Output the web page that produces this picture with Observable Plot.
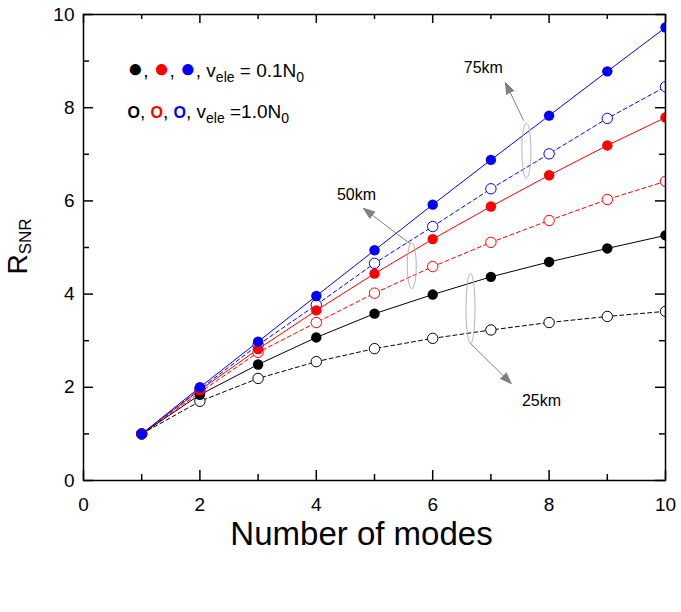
<!DOCTYPE html>
<html><head><meta charset="utf-8">
<script src="https://cdn.jsdelivr.net/npm/d3@7"></script>
<script src="https://cdn.jsdelivr.net/npm/@observablehq/plot@0.6"></script>
<style>body{margin:0;background:#fff;} #chart{width:681px;height:612px;}</style>
</head><body><div id="chart"></div>
<script>
// ---- data ----
const modes = [1, 2, 3, 4, 5, 6, 7, 8, 9, 10];
const filled25 = [1, 1.84, 2.49, 3.07, 3.58, 3.99, 4.37, 4.69, 4.98, 5.26];
const open25   = [1, 1.70, 2.19, 2.55, 2.83, 3.05, 3.23, 3.39, 3.52, 3.63];
const filled50 = [1, 1.94, 2.82, 3.65, 4.44, 5.18, 5.88, 6.55, 7.19, 7.79];
const open50   = [1, 1.89, 2.75, 3.39, 4.02, 4.59, 5.11, 5.58, 6.03, 6.42];
const filled75 = [1, 2.00, 2.98, 3.96, 4.94, 5.92, 6.88, 7.83, 8.78, 9.72];
const open75   = [1, 1.96, 2.91, 3.77, 4.66, 5.45, 6.26, 7.01, 7.77, 8.45];
const xTicks = [0, 2, 4, 6, 8, 10];
const xMinor = [1, 3, 5, 7, 9];
const yTicks = [0, 2, 4, 6, 8, 10];
const yMinor = [1, 3, 5, 7, 9];
const xLabel = "Number of modes";
const yLabel = "RSNR";
const annNames = ["75km", "50km", "25km"];
const legendFilled = "v_ele = 0.1N_0";
const legendOpen = "v_ele =1.0N_0";

// ---- annotation placement (data units) ----
const annLabelX = [6.87, 4.69, 7.87], annLabelY = [8.86, 6.12, 1.70];
const annFromX = [7.56, 5.60, 6.65], annFromY = [7.73, 5.09, 2.94];
const annToX = [7.25, 4.81, 7.35], annToY = [8.54, 5.84, 2.08];
const annEllX = [7.61, 5.64, 6.65], annEllY = [7.08, 4.61, 3.69];
const annEllR = [27.5, 23, 35];
const ann = annNames.map((n, i) => ({name: n, lx: annLabelX[i], ly: annLabelY[i],
  x1: annFromX[i], y1: annFromY[i], x2: annToX[i], y2: annToY[i],
  ex: annEllX[i], ey: annEllY[i], er: annEllR[i]}));

const W = 681, H = 612, mL = 83, mR = 16, mT = 14, mB = 132;
const fw = W - mL - mR, fh = H - mT - mB;

const mk = (vals) => modes.map((m, i) => ({mode: m, value: vals[i]}));
const series = [
  {kind: "open", color: "#000000", data: mk(open25)},
  {kind: "open", color: "#ff0000", data: mk(open50)},
  {kind: "open", color: "#0000ff", data: mk(open75)},
  {kind: "filled", color: "#000000", data: mk(filled25)},
  {kind: "filled", color: "#ff0000", data: mk(filled50)},
  {kind: "filled", color: "#0000ff", data: mk(filled75)}
];

const ellipseSymbol = {
  draw(ctx, size) {
    const ry = Math.sqrt(size / Math.PI), rx = 4.5, k = 0.5523;
    ctx.moveTo(0, -ry);
    ctx.bezierCurveTo(k * rx, -ry, rx, -k * ry, rx, 0);
    ctx.bezierCurveTo(rx, k * ry, k * rx, ry, 0, ry);
    ctx.bezierCurveTo(-k * rx, ry, -rx, k * ry, -rx, 0);
    ctx.bezierCurveTo(-rx, -k * ry, -k * rx, -ry, 0, -ry);
    ctx.closePath();
  }
};

const legendRows = [
  {plain: "●, ●, ●, " + legendFilled, y: 8.78, mark: "●", msize: 26, bold: false, label: legendFilled},
  {plain: "O, O, O, " + legendOpen, y: 7.92, mark: "O", msize: 16, bold: true, label: legendOpen}
];

const plot = Plot.plot({
  width: W, height: H,
  marginLeft: mL, marginRight: mR, marginTop: mT, marginBottom: mB,
  x: {domain: [0, 10]},
  y: {domain: [0, 10]},
  style: {fontFamily: "'Liberation Sans', Arial, sans-serif", background: "white", color: "black", overflow: "visible"},
  marks: [
    ...series.map(s => Plot.line(s.data, {x: "mode", y: "value", stroke: s.color, strokeWidth: 1,
      ...(s.kind === "open" ? {strokeDasharray: "4,3"} : {}), clip: true})),
    ...series.map(s => Plot.dot(s.data, {x: "mode", y: "value", r: 5.2,
      fill: s.kind === "filled" ? s.color : "white",
      stroke: s.kind === "filled" ? "none" : s.color, strokeWidth: 1, clip: true})),
    ...ann.map(a => Plot.dot([a], {x: "ex", y: "ey", r: a.er, symbol: ellipseSymbol, fill: "none", stroke: "#b4b4b4", strokeWidth: 1})),
    Plot.arrow(ann, {x1: "x1", y1: "y1", x2: "x2", y2: "y2", stroke: "#808080",
      strokeWidth: 1, headLength: 18, headAngle: 40, insetEnd: 0}),
    Plot.text(ann, {x: "lx", y: "ly", text: "name", fontSize: 16, textAnchor: "middle", lineAnchor: "middle", fill: "black"}),
    Plot.text(legendRows, {x: () => 0.756, y: "y", text: "plain", fontSize: 19, textAnchor: "start", lineAnchor: "middle", fill: "black"}),
    Plot.frame({stroke: "black", strokeWidth: 1.5}),
    Plot.tickX(xTicks, {x: d => d, insetTop: fh - 10, stroke: "black", strokeWidth: 1.5}),
    Plot.tickX(xMinor, {x: d => d, insetTop: fh - 6, stroke: "black", strokeWidth: 1.5}),
    Plot.tickX(xTicks, {x: d => d, insetBottom: fh - 9, stroke: "black", strokeWidth: 1.5}),
    Plot.tickX(xMinor, {x: d => d, insetBottom: fh - 5, stroke: "black", strokeWidth: 1.5}),
    Plot.tickY(yTicks, {y: d => d, insetRight: fw - 10, stroke: "black", strokeWidth: 1.5}),
    Plot.tickY(yMinor, {y: d => d, insetRight: fw - 6, stroke: "black", strokeWidth: 1.5}),
    Plot.tickY(yTicks, {y: d => d, insetLeft: fw - 10, stroke: "black", strokeWidth: 1.5}),
    Plot.tickY(yMinor, {y: d => d, insetLeft: fw - 6, stroke: "black", strokeWidth: 1.5}),
    Plot.axisX({ticks: xTicks, tickSize: 0, tickPadding: 17, fontSize: 19, label: null}),
    Plot.axisY({ticks: yTicks, tickSize: 0, tickPadding: 9, fontSize: 19, label: null}),
    Plot.text([xLabel], {frameAnchor: "bottom", text: d => d, dx: -13, dy: 54, fontSize: 33, lineAnchor: "middle", textAnchor: "middle"}),
    Plot.text([yLabel], {frameAnchor: "left", text: d => d, rotate: -90, dx: -65, dy: -1, fontSize: 28, lineAnchor: "middle", textAnchor: "middle"})
  ]
});

function setRich(root, plain, parts) {
  d3.select(root).selectAll("text").filter(function () { return this.textContent === plain; }).each(function () {
    const t = d3.select(this);
    t.text(null);
    let shift = 0;
    for (const p of parts) {
      const ts = t.append("tspan").text(p.t);
      const target = p.sub || 0;
      if (target !== shift) { ts.attr("dy", target - shift); shift = target; }
      if (p.size) ts.attr("font-size", p.size);
      if (p.fill) ts.attr("fill", p.fill);
      if (p.bold) ts.attr("font-weight", "bold");
    }
  });
}
function labelParts(label) {
  const out = [];
  label.split(/(_\w+)/).forEach(seg => {
    if (!seg) return;
    if (seg[0] === "_") {
      const m = seg.slice(1);
      if (m.startsWith("ele")) { out.push({t: "ele", sub: 5, size: 14}); if (m.length > 3) out.push({t: m.slice(3)}); }
      else out.push({t: m, sub: 5, size: 14});
    } else out.push({t: seg});
  });
  return out;
}
const colors = ["#000000", "#ff0000", "#0000ff"];
for (const row of legendRows) {
  const parts = [];
  colors.forEach(c => { parts.push({t: row.mark, fill: c, size: row.msize, bold: row.bold}); parts.push({t: ", "}); });
  parts.push(...labelParts(row.label));
  setRich(plot, row.plain, parts);
}
setRich(plot, yLabel, [{t: "R"}, {t: "SNR", sub: 4, size: 17}]);
d3.select(plot).selectAll('g[aria-label="arrow"] path').attr("fill", "#808080");
document.getElementById("chart").appendChild(plot);
</script>
</body></html>
